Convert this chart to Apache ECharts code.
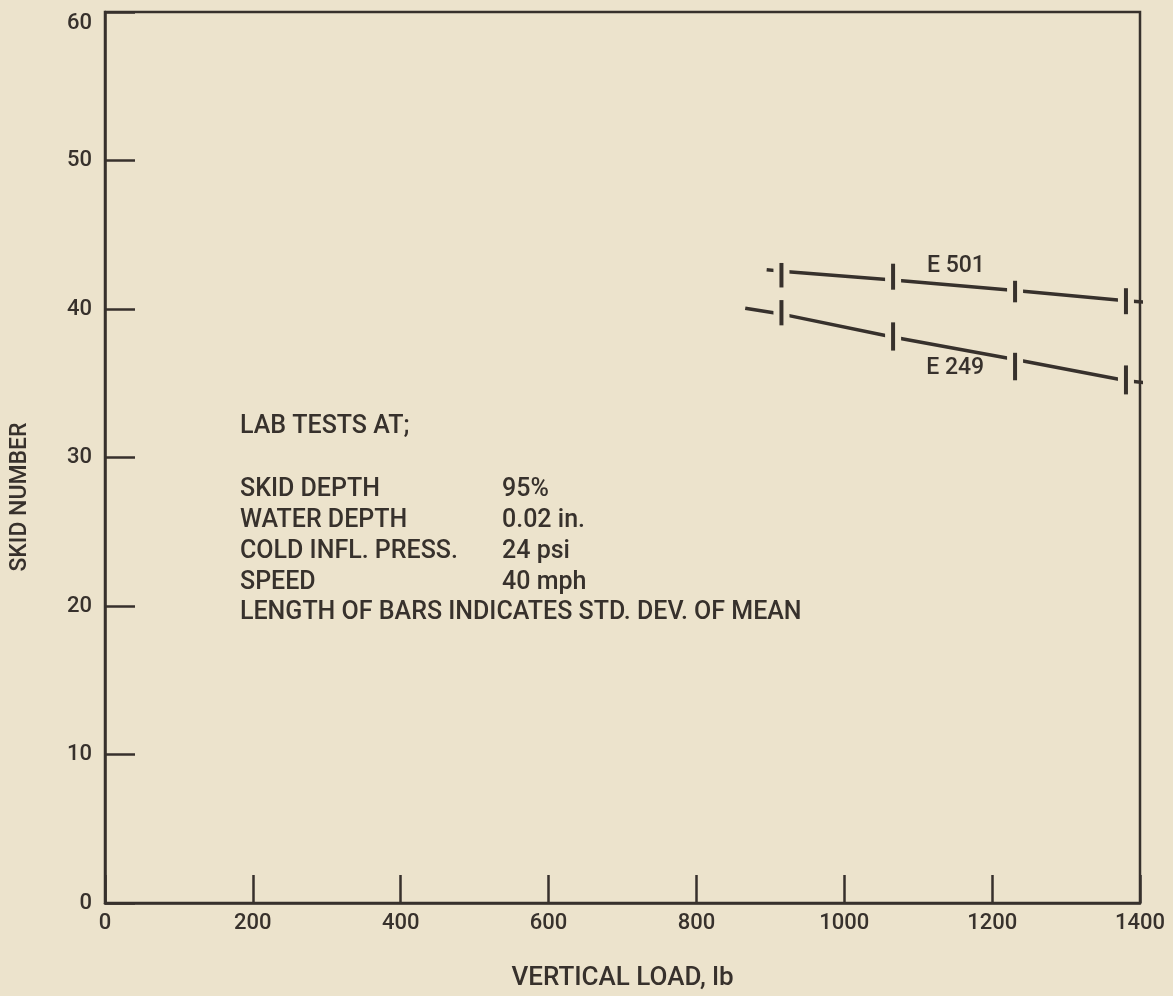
<!DOCTYPE html>
<html>
<head>
<meta charset="utf-8">
<title>Skid number vs vertical load</title>
<script src="https://cdn.jsdelivr.net/npm/echarts@6.0.0/dist/echarts.min.js"></script>
<style>
  html, body { margin: 0; padding: 0; background: #ece3cc; }
  #chart { width: 1173px; height: 996px; }
</style>
</head>
<body>
<div id="chart"></div>
<script>
// loads where the tyres were tested (lb)
const loads = [915, 1066, 1231, 1381];

// E 501: fitted line (with stubs past the first and last load) and bar ends
const e501LineX = [895, 915, 1066, 1231, 1381, 1421];
const e501LineY = [42.65, 42.55, 41.95, 41.25, 40.55, 40.4];
const e501Low = [41.45, 41.3, 40.45, 39.65];
const e501High = [43.1, 43.05, 41.9, 41.4];

// E 249
const e249LineX = [866, 917, 1067, 1233, 1382, 1421];
const e249LineY = [40.05, 39.64, 38.1, 36.58, 35.17, 34.95];
const e249Low = [38.9, 37.2, 35.2, 34.25];
const e249High = [40.6, 39.1, 37.05, 36.2];

// series labels: [load, skid number]
const labelNames = ['E 501', 'E 249'];
const labelPos = [[1151, 42.9], [1150, 36.0]];

const notesLeft = ['SKID DEPTH', 'WATER DEPTH', 'COLD INFL. PRESS.', 'SPEED'];
const notesRight = ['95%', '0.02 in.', '24 psi', '40 mph'];

const ink = '#37312c';
const bg = '#ece3cc';
const font = 'Roboto, "Liberation Sans", Arial, sans-serif';
const fw = 500;

let myChart = echarts.init(document.getElementById('chart'), null, { renderer: 'canvas' });

const zip = (xs, ys) => xs.map((x, i) => [x, ys[i]]);
const bars = (lo, hi) => loads.map((x, i) => [x, lo[i], hi[i]]);

// bar = short vertical stroke, with a background patch that breaks the line around it
function renderBar(params, api) {
  const lo = api.coord([api.value(0), api.value(1)]);
  const hi = api.coord([api.value(0), api.value(2)]);
  return {
    type: 'group',
    children: [
      { type: 'rect', shape: { x: lo[0] - 8, y: hi[1], width: 16, height: lo[1] - hi[1] }, style: { fill: bg } },
      { type: 'line', shape: { x1: lo[0], y1: lo[1], x2: hi[0], y2: hi[1] }, style: { stroke: ink, lineWidth: 4 } }
    ]
  };
}

function renderLabel(params, api) {
  const p = api.coord([api.value(0), api.value(1)]);
  return {
    type: 'text', x: p[0], y: p[1],
    style: { text: labelNames[params.dataIndex], font: fw + ' 23px ' + font, fill: ink, align: 'center', verticalAlign: 'middle' }
  };
}

const noteFont = fw + ' 25px ' + font;
const notes = [];
notes.push({ type: 'text', x: 240, y: 427, style: { text: 'LAB TESTS AT;', font: noteFont, fill: ink, verticalAlign: 'middle' } });
notesLeft.forEach((t, i) => {
  notes.push({ type: 'text', x: 240, y: 490 + i * 31, style: { text: t, font: noteFont, fill: ink, verticalAlign: 'middle' } });
  notes.push({ type: 'text', x: 502, y: 490 + i * 31, style: { text: notesRight[i], font: noteFont, fill: ink, verticalAlign: 'middle' } });
});
notes.push({ type: 'text', x: 240, y: 613, style: { text: 'LENGTH OF BARS INDICATES STD. DEV. OF MEAN', font: noteFont, fill: ink, verticalAlign: 'middle' } });
notes.push({
  type: 'text', x: 20, y: 497, rotation: Math.PI / 2,
  style: { text: 'SKID NUMBER', font: fw + ' 23px ' + font, fill: ink, align: 'center', verticalAlign: 'middle' }
});

myChart.setOption({
  backgroundColor: bg,
  animation: false,
  grid: { left: 105, right: 33, top: 12, bottom: 88, show: true, borderColor: ink, borderWidth: 2.5 },
  xAxis: {
    type: 'value', min: 0, max: 1400, interval: 200,
    name: 'VERTICAL LOAD, lb', nameLocation: 'middle', nameGap: 62,
    nameTextStyle: { color: ink, fontSize: 26, fontWeight: fw, fontFamily: font },
    axisLine: { show: true, lineStyle: { color: ink, width: 2.5 } },
    axisTick: { show: true, inside: true, length: 28, lineStyle: { color: ink, width: 2.5 } },
    axisLabel: { color: ink, fontSize: 22, fontWeight: fw, fontFamily: font, margin: 9, formatter: v => String(v) },
    splitLine: { show: false }
  },
  yAxis: {
    type: 'value', min: 0, max: 60, interval: 10,
    axisLine: { show: true, lineStyle: { color: ink, width: 2.5 } },
    axisTick: { show: true, inside: true, length: 30, lineStyle: { color: ink, width: 2.5 } },
    axisLabel: { color: ink, fontSize: 22, fontWeight: fw, fontFamily: font, margin: 13, verticalAlignMaxLabel: 'top' },
    splitLine: { show: false }
  },
  graphic: notes,
  series: [
    { name: 'E 501', type: 'line', data: zip(e501LineX, e501LineY), symbol: 'none', clip: false,
      lineStyle: { color: ink, width: 3.5 }, z: 2 },
    { name: 'E 249', type: 'line', data: zip(e249LineX, e249LineY), symbol: 'none', clip: false,
      lineStyle: { color: ink, width: 3.5 }, z: 2 },
    { name: 'E 501 bars', type: 'custom', data: bars(e501Low, e501High), renderItem: renderBar, z: 3 },
    { name: 'E 249 bars', type: 'custom', data: bars(e249Low, e249High), renderItem: renderBar, z: 3 },
    { name: 'labels', type: 'custom', data: labelPos, renderItem: renderLabel, z: 4 }
  ]
});
</script>
</body>
</html>
